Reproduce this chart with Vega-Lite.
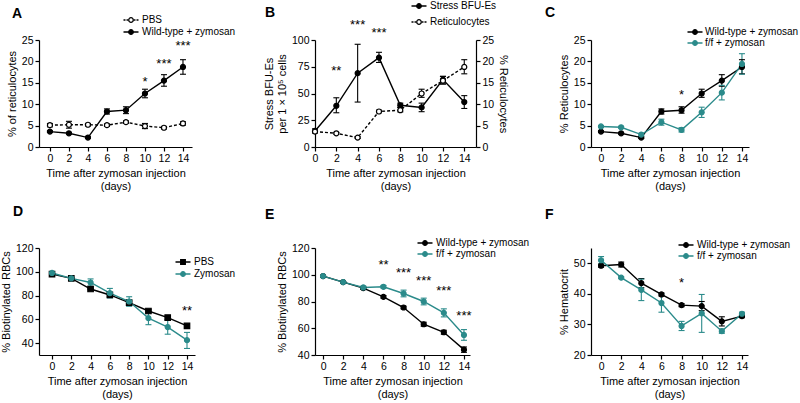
{
"$schema": "https://vega.github.io/schema/vega-lite/v6.json",
"padding": 0,
"config": {
 "font": "Liberation Sans",
 "view": {"stroke": null},
 "axis": {"grid": false, "domainColor": "#000", "tickColor": "#000", "labelColor": "#000", "titleColor": "#000", "labelFont": "Liberation Sans", "titleFont": "Liberation Sans", "labelFontSize": 10.5, "titleFontSize": 11, "titleFontWeight": "normal", "tickSize": 4, "domainWidth": 1.2, "tickWidth": 1.2, "labelPadding": 2, "titlePadding": 4, "titleLineHeight": 13, "labelFlush": false, "labelOverlap": false},
 "legend": {"labelFont": "Liberation Sans", "labelFontSize": 10, "labelColor": "#000", "padding": 0, "labelOffset": 5, "symbolSize": 100, "symbolStrokeWidth": 1.3, "orient": "none"},
 "title": {"font": "Liberation Sans", "fontSize": 14, "fontWeight": "bold", "color": "#000", "anchor": "start", "frame": "group"}
},
"columns": 3,
"spacing": {"row": 101, "column": 115},
"bounds": "flush",
"align": "all",
"resolve": {"scale": {"color": "independent", "stroke": "independent", "fill": "independent", "shape": "independent"}},
"concat": [
{
 "width": 153, "height": 107,
 "title": {"text": "A", "dx": -27, "dy": 11},
 "data": {"values": [
  {"day":0,"s":"PBS","v":5.1,"lo":4.7,"hi":5.5},
  {"day":2,"s":"PBS","v":5.2,"lo":4.4,"hi":6.0},
  {"day":4,"s":"PBS","v":5.2,"lo":4.9,"hi":5.5},
  {"day":6,"s":"PBS","v":5.1,"lo":4.8,"hi":5.4},
  {"day":8,"s":"PBS","v":5.8,"lo":5.5,"hi":6.1},
  {"day":10,"s":"PBS","v":4.9,"lo":4.3,"hi":5.5},
  {"day":12,"s":"PBS","v":4.5,"lo":4.2,"hi":4.8},
  {"day":14,"s":"PBS","v":5.5,"lo":5.1,"hi":5.9},
  {"day":0,"s":"Wild-type + zymosan","v":3.6,"lo":3.4,"hi":3.8},
  {"day":2,"s":"Wild-type + zymosan","v":3.2,"lo":3.0,"hi":3.4},
  {"day":4,"s":"Wild-type + zymosan","v":2.2,"lo":2.0,"hi":2.5},
  {"day":6,"s":"Wild-type + zymosan","v":8.3,"lo":7.7,"hi":8.9},
  {"day":8,"s":"Wild-type + zymosan","v":8.6,"lo":7.8,"hi":9.4},
  {"day":10,"s":"Wild-type + zymosan","v":12.5,"lo":11.5,"hi":13.5},
  {"day":12,"s":"Wild-type + zymosan","v":15.5,"lo":14.2,"hi":16.9},
  {"day":14,"s":"Wild-type + zymosan","v":18.7,"lo":17.0,"hi":20.4}
 ]},
 "encoding": {"x": {"field": "day", "type": "quantitative", "scale": {"domain": [-1.15, 14.95], "nice": false, "zero": false}, "axis": {"values": [0,2,4,6,8,10,12,14], "labelOverlap": false, "title": ["Time after zymosan injection", "(days)"]}}},
 "layer": [
  {"mark": {"type": "rule", "strokeWidth": 1.1, "color": "#000"},
   "encoding": {"y": {"field": "lo", "type": "quantitative", "scale": {"domain": [0, 25], "nice": false}, "axis": {"values": [0,5,10,15,20,25], "labelOverlap": false, "title": "% of reticulocytes"}}, "y2": {"field": "hi"}}},
  {"mark": {"type": "tick", "orient": "horizontal", "size": 6, "thickness": 1.1, "opacity": 1, "color": "#000"},
   "encoding": {"y": {"field": "lo", "type": "quantitative", "scale": {"domain": [0, 25], "nice": false}, "axis": {"values": [0,5,10,15,20,25], "labelOverlap": false, "title": "% of reticulocytes"}}}},
  {"mark": {"type": "tick", "orient": "horizontal", "size": 6, "thickness": 1.1, "opacity": 1, "color": "#000"},
   "encoding": {"y": {"field": "hi", "type": "quantitative", "scale": {"domain": [0, 25], "nice": false}, "axis": {"values": [0,5,10,15,20,25], "labelOverlap": false, "title": "% of reticulocytes"}}}},
  {"transform": [{"filter": "datum.s === 'PBS'"}],
   "mark": {"type": "line", "strokeWidth": 1.4, "color": "#000", "strokeDash": [3, 2]},
   "encoding": {"y": {"field": "v", "type": "quantitative", "scale": {"domain": [0, 25], "nice": false}, "axis": {"values": [0,5,10,15,20,25], "labelOverlap": false, "title": "% of reticulocytes"}}}},
  {"transform": [{"filter": "datum.s !== 'PBS'"}],
   "mark": {"type": "line", "strokeWidth": 1.4, "color": "#000"},
   "encoding": {"y": {"field": "v", "type": "quantitative", "scale": {"domain": [0, 25], "nice": false}, "axis": {"values": [0,5,10,15,20,25], "labelOverlap": false, "title": "% of reticulocytes"}}}},
  {"mark": {"type": "point", "size": 25, "opacity": 1, "strokeWidth": 1.2},
   "encoding": {
    "y": {"field": "v", "type": "quantitative", "scale": {"domain": [0, 25], "nice": false}, "axis": {"values": [0,5,10,15,20,25], "labelOverlap": false, "title": "% of reticulocytes"}},
    "fill": {"field": "s", "type": "nominal", "scale": {"domain": ["PBS", "Wild-type + zymosan"], "range": ["#fff", "#000"]}},
    "stroke": {"field": "s", "type": "nominal", "scale": {"domain": ["PBS", "Wild-type + zymosan"], "range": ["#000", "#000"]},
     "legend": {"title": null, "legendX": 86, "legendY": -26, "rowPadding": 1, "symbolSize": 100,
      "encoding": {"symbols": {
       "fill": {"value": {"expr": "datum.value === 'PBS' ? '#fff' : '#000'"}},
       "shape": {"value": {"expr": "datum.value === 'PBS' ? 'M-1.5,0H-1.1M-0.9,0H-0.6M0.6,0H0.9M1.1,0H1.5M0.46,0A0.46,0.46,0,1,1,-0.46,0A0.46,0.46,0,1,1,0.46,0Z' : 'M-1.5,0H1.5M0.46,0A0.46,0.46,0,1,1,-0.46,0A0.46,0.46,0,1,1,0.46,0Z'"}}}}}}}},
  {"data": {"values": [{"day":10,"v":15.3,"t":"*"},{"day":12,"v":19.5,"t":"***"},{"day":14,"v":23.5,"t":"***"}]},
   "mark": {"type": "text", "fontSize": 13, "baseline": "middle", "color": "#000"},
   "encoding": {
    "y": {"field": "v", "type": "quantitative", "scale": {"domain": [0, 25], "nice": false}, "axis": {"values": [0,5,10,15,20,25], "labelOverlap": false, "title": "% of reticulocytes"}},
    "text": {"field": "t"}}}
 ]
},
{
 "width": 161, "height": 107,
 "title": {"text": "B", "dx": -50, "dy": 24},
 "data": {"values": [
  {"day":0,"s":"Stress BFU-Es","v":15,"lo":13,"hi":17},
  {"day":2,"s":"Stress BFU-Es","v":38.5,"lo":32,"hi":46},
  {"day":4,"s":"Stress BFU-Es","v":69,"lo":42,"hi":96},
  {"day":6,"s":"Stress BFU-Es","v":83.5,"lo":79,"hi":88.5},
  {"day":8,"s":"Stress BFU-Es","v":39,"lo":37,"hi":41},
  {"day":10,"s":"Stress BFU-Es","v":37,"lo":33,"hi":41},
  {"day":12,"s":"Stress BFU-Es","v":63,"lo":59,"hi":66},
  {"day":14,"s":"Stress BFU-Es","v":42,"lo":36,"hi":48},
  {"day":0,"s":"Reticulocytes","v":3.6,"lo":3.4,"hi":3.8},
  {"day":2,"s":"Reticulocytes","v":3.2,"lo":3.0,"hi":3.4},
  {"day":4,"s":"Reticulocytes","v":2.2,"lo":2.0,"hi":2.4},
  {"day":6,"s":"Reticulocytes","v":8.3,"lo":8.0,"hi":8.6},
  {"day":8,"s":"Reticulocytes","v":8.6,"lo":8.2,"hi":9.2},
  {"day":10,"s":"Reticulocytes","v":12.5,"lo":11.6,"hi":13.5},
  {"day":12,"s":"Reticulocytes","v":15.5,"lo":14.7,"hi":16.5},
  {"day":14,"s":"Reticulocytes","v":18.7,"lo":17.1,"hi":20.4}
 ]},
 "encoding": {"x": {"field": "day", "type": "quantitative", "scale": {"domain": [0, 15.1], "nice": false, "zero": false}, "axis": {"values": [0,2,4,6,8,10,12,14], "labelOverlap": false, "title": ["Time after zymosan injection", "(days)"]}}},
 "resolve": {"scale": {"y": "independent"}},
 "layer": [
  {"transform": [{"filter": "datum.s === 'Stress BFU-Es'"}],
   "layer": [
    {"mark": {"type": "rule", "strokeWidth": 1.1, "color": "#000"},
     "encoding": {"y": {"field": "lo", "type": "quantitative", "scale": {"domain": [0, 100], "nice": false}, "axis": {"values": [0,25,50,75,100], "labelOverlap": false, "orient": "left", "title": ["Stress BFU-Es", "per 1 × 10⁵ cells"]}}, "y2": {"field": "hi"}}},
    {"mark": {"type": "tick", "orient": "horizontal", "size": 6, "thickness": 1.1, "opacity": 1, "color": "#000"},
     "encoding": {"y": {"field": "lo", "type": "quantitative", "scale": {"domain": [0, 100], "nice": false}, "axis": {"values": [0,25,50,75,100], "labelOverlap": false, "orient": "left", "title": ["Stress BFU-Es", "per 1 × 10⁵ cells"]}}}},
    {"mark": {"type": "tick", "orient": "horizontal", "size": 6, "thickness": 1.1, "opacity": 1, "color": "#000"},
     "encoding": {"y": {"field": "hi", "type": "quantitative", "scale": {"domain": [0, 100], "nice": false}, "axis": {"values": [0,25,50,75,100], "labelOverlap": false, "orient": "left", "title": ["Stress BFU-Es", "per 1 × 10⁵ cells"]}}}},
    {"mark": {"type": "line", "strokeWidth": 1.4, "color": "#000"},
     "encoding": {"y": {"field": "v", "type": "quantitative", "scale": {"domain": [0, 100], "nice": false}, "axis": {"values": [0,25,50,75,100], "labelOverlap": false, "orient": "left", "title": ["Stress BFU-Es", "per 1 × 10⁵ cells"]}}}},
    {"mark": {"type": "point", "size": 25, "opacity": 1, "strokeWidth": 1.2},
     "encoding": {
      "y": {"field": "v", "type": "quantitative", "scale": {"domain": [0, 100], "nice": false}, "axis": {"values": [0,25,50,75,100], "labelOverlap": false, "orient": "left", "title": ["Stress BFU-Es", "per 1 × 10⁵ cells"]}},
      "fill": {"field": "s", "type": "nominal", "scale": {"domain": ["Stress BFU-Es", "Reticulocytes"], "range": ["#000", "#fff"]}},
      "stroke": {"field": "s", "type": "nominal", "scale": {"domain": ["Stress BFU-Es", "Reticulocytes"], "range": ["#000", "#000"]},
       "legend": {"title": null, "legendX": 98, "legendY": -40, "rowPadding": 5, "symbolSize": 100,
        "encoding": {"symbols": {
         "fill": {"value": {"expr": "datum.value === 'Reticulocytes' ? '#fff' : '#000'"}},
         "shape": {"value": {"expr": "datum.value === 'Reticulocytes' ? 'M-1.5,0H-1.1M-0.9,0H-0.6M0.6,0H0.9M1.1,0H1.5M0.46,0A0.46,0.46,0,1,1,-0.46,0A0.46,0.46,0,1,1,0.46,0Z' : 'M-1.5,0H1.5M0.46,0A0.46,0.46,0,1,1,-0.46,0A0.46,0.46,0,1,1,0.46,0Z'"}}}}}}}},
    {"data": {"values": [{"day":2,"v":71,"t":"**"},{"day":4,"v":114,"t":"***"},{"day":6,"v":107,"t":"***"}]},
     "mark": {"type": "text", "fontSize": 13, "baseline": "middle", "color": "#000"},
     "encoding": {
      "y": {"field": "v", "type": "quantitative", "scale": {"domain": [0, 100], "nice": false}, "axis": {"values": [0,25,50,75,100], "labelOverlap": false, "orient": "left", "title": ["Stress BFU-Es", "per 1 × 10⁵ cells"]}},
      "text": {"field": "t"}}}
   ]},
  {"transform": [{"filter": "datum.s === 'Reticulocytes'"}],
   "layer": [
    {"mark": {"type": "rule", "strokeWidth": 1.1, "color": "#000"},
     "encoding": {"y": {"field": "lo", "type": "quantitative", "scale": {"domain": [0, 25], "nice": false}, "axis": {"values": [0,5,10,15,20,25], "labelOverlap": false, "orient": "right", "title": "% Reticulocytes"}}, "y2": {"field": "hi"}}},
    {"mark": {"type": "tick", "orient": "horizontal", "size": 6, "thickness": 1.1, "opacity": 1, "color": "#000"},
     "encoding": {"y": {"field": "lo", "type": "quantitative", "scale": {"domain": [0, 25], "nice": false}, "axis": {"values": [0,5,10,15,20,25], "labelOverlap": false, "orient": "right", "title": "% Reticulocytes"}}}},
    {"mark": {"type": "tick", "orient": "horizontal", "size": 6, "thickness": 1.1, "opacity": 1, "color": "#000"},
     "encoding": {"y": {"field": "hi", "type": "quantitative", "scale": {"domain": [0, 25], "nice": false}, "axis": {"values": [0,5,10,15,20,25], "labelOverlap": false, "orient": "right", "title": "% Reticulocytes"}}}},
    {"mark": {"type": "line", "strokeWidth": 1.4, "color": "#000", "strokeDash": [3, 2]},
     "encoding": {"y": {"field": "v", "type": "quantitative", "scale": {"domain": [0, 25], "nice": false}, "axis": {"values": [0,5,10,15,20,25], "labelOverlap": false, "orient": "right", "title": "% Reticulocytes"}}}},
    {"mark": {"type": "point", "size": 25, "opacity": 1, "strokeWidth": 1.2},
     "encoding": {
      "y": {"field": "v", "type": "quantitative", "scale": {"domain": [0, 25], "nice": false}, "axis": {"values": [0,5,10,15,20,25], "labelOverlap": false, "orient": "right", "title": "% Reticulocytes"}},
      "fill": {"field": "s", "type": "nominal", "scale": {"domain": ["Stress BFU-Es", "Reticulocytes"], "range": ["#000", "#fff"]}},
      "stroke": {"field": "s", "type": "nominal", "scale": {"domain": ["Stress BFU-Es", "Reticulocytes"], "range": ["#000", "#000"]}}}}
   ]}
 ]
},
{
 "width": 158, "height": 107,
 "title": {"text": "C", "dx": -46, "dy": -2},
 "data": {"values": [
  {"day":0,"s":"Wild-type + zymosan","v":3.6,"lo":3.4,"hi":3.8},
  {"day":2,"s":"Wild-type + zymosan","v":3.2,"lo":3.0,"hi":3.4},
  {"day":4,"s":"Wild-type + zymosan","v":2.2,"lo":2.0,"hi":2.4},
  {"day":6,"s":"Wild-type + zymosan","v":8.3,"lo":7.7,"hi":8.9},
  {"day":8,"s":"Wild-type + zymosan","v":8.6,"lo":7.9,"hi":9.4},
  {"day":10,"s":"Wild-type + zymosan","v":12.5,"lo":11.6,"hi":13.5},
  {"day":12,"s":"Wild-type + zymosan","v":15.5,"lo":14.2,"hi":16.9},
  {"day":14,"s":"Wild-type + zymosan","v":18.7,"lo":17.1,"hi":20.4},
  {"day":0,"s":"f/f + zymosan","v":4.8,"lo":4.6,"hi":5.0},
  {"day":2,"s":"f/f + zymosan","v":4.6,"lo":4.4,"hi":4.8},
  {"day":4,"s":"f/f + zymosan","v":2.9,"lo":2.6,"hi":3.2},
  {"day":6,"s":"f/f + zymosan","v":5.8,"lo":5.1,"hi":6.5},
  {"day":8,"s":"f/f + zymosan","v":4.0,"lo":3.5,"hi":4.5},
  {"day":10,"s":"f/f + zymosan","v":8.1,"lo":6.9,"hi":9.3},
  {"day":12,"s":"f/f + zymosan","v":12.7,"lo":11.0,"hi":14.4},
  {"day":14,"s":"f/f + zymosan","v":19.4,"lo":17.0,"hi":21.8}
 ]},
 "encoding": {"x": {"field": "day", "type": "quantitative", "scale": {"domain": [-0.99, 14.7], "nice": false, "zero": false}, "axis": {"values": [0,2,4,6,8,10,12,14], "labelOverlap": false, "title": ["Time after zymosan injection", "(days)"]}}},
 "layer": [
  {"mark": {"type": "rule", "strokeWidth": 1.1},
   "encoding": {"y": {"field": "lo", "type": "quantitative", "scale": {"domain": [0, 25], "nice": false}, "axis": {"values": [0,5,10,15,20,25], "labelOverlap": false, "title": "% Reticulocytes"}}, "y2": {"field": "hi"},
    "color": {"field": "s", "type": "nominal", "scale": {"domain": ["Wild-type + zymosan", "f/f + zymosan"], "range": ["#000", "#2b8b8b"]}}}},
  {"mark": {"type": "tick", "orient": "horizontal", "size": 6, "thickness": 1.1, "opacity": 1},
   "encoding": {"y": {"field": "lo", "type": "quantitative", "scale": {"domain": [0, 25], "nice": false}, "axis": {"values": [0,5,10,15,20,25], "labelOverlap": false, "title": "% Reticulocytes"}},
    "color": {"field": "s", "type": "nominal", "scale": {"domain": ["Wild-type + zymosan", "f/f + zymosan"], "range": ["#000", "#2b8b8b"]}}}},
  {"mark": {"type": "tick", "orient": "horizontal", "size": 6, "thickness": 1.1, "opacity": 1},
   "encoding": {"y": {"field": "hi", "type": "quantitative", "scale": {"domain": [0, 25], "nice": false}, "axis": {"values": [0,5,10,15,20,25], "labelOverlap": false, "title": "% Reticulocytes"}},
    "color": {"field": "s", "type": "nominal", "scale": {"domain": ["Wild-type + zymosan", "f/f + zymosan"], "range": ["#000", "#2b8b8b"]}}}},
  {"mark": {"type": "line", "strokeWidth": 1.4},
   "encoding": {"y": {"field": "v", "type": "quantitative", "scale": {"domain": [0, 25], "nice": false}, "axis": {"values": [0,5,10,15,20,25], "labelOverlap": false, "title": "% Reticulocytes"}},
    "color": {"field": "s", "type": "nominal", "scale": {"domain": ["Wild-type + zymosan", "f/f + zymosan"], "range": ["#000", "#2b8b8b"]}}}},
  {"mark": {"type": "point", "size": 25, "opacity": 1, "strokeWidth": 1.2},
   "encoding": {
    "y": {"field": "v", "type": "quantitative", "scale": {"domain": [0, 25], "nice": false}, "axis": {"values": [0,5,10,15,20,25], "labelOverlap": false, "title": "% Reticulocytes"}},
    "fill": {"field": "s", "type": "nominal", "scale": {"domain": ["Wild-type + zymosan", "f/f + zymosan"], "range": ["#000", "#2b8b8b"]}},
    "stroke": {"field": "s", "type": "nominal", "scale": {"domain": ["Wild-type + zymosan", "f/f + zymosan"], "range": ["#000", "#2b8b8b"]},
     "legend": {"title": null, "legendX": 98, "legendY": -14, "rowPadding": 0, "symbolSize": 100, "labelOffset": 4,
      "encoding": {"symbols": {
       "fill": {"value": {"expr": "datum.value === 'f/f + zymosan' ? '#2b8b8b' : '#000'"}},
       "shape": {"value": "M-1.5,0H1.5M0.46,0A0.46,0.46,0,1,1,-0.46,0A0.46,0.46,0,1,1,0.46,0Z"}}}}}}},
  {"data": {"values": [{"day":8,"v":12.2,"t":"*"}]},
   "mark": {"type": "text", "fontSize": 13, "baseline": "middle", "color": "#000"},
   "encoding": {
    "y": {"field": "v", "type": "quantitative", "scale": {"domain": [0, 25], "nice": false}, "axis": {"values": [0,5,10,15,20,25], "labelOverlap": false, "title": "% Reticulocytes"}},
    "text": {"field": "t"}}}
 ]
},
{
 "width": 156, "height": 107,
 "title": {"text": "D", "dx": -26, "dy": -20},
 "data": {"values": [
  {"day":0,"s":"PBS","v":98,"lo":97,"hi":99},
  {"day":2,"s":"PBS","v":94.5,"lo":94,"hi":95},
  {"day":4,"s":"PBS","v":85.5,"lo":85,"hi":86},
  {"day":6,"s":"PBS","v":80.5,"lo":79.5,"hi":81.5},
  {"day":8,"s":"PBS","v":74,"lo":72.5,"hi":75.5},
  {"day":10,"s":"PBS","v":67,"lo":66,"hi":68},
  {"day":12,"s":"PBS","v":61.5,"lo":60,"hi":63},
  {"day":14,"s":"PBS","v":54.5,"lo":53.5,"hi":55.5},
  {"day":0,"s":"Zymosan","v":99,"lo":98,"hi":100},
  {"day":2,"s":"Zymosan","v":94.5,"lo":94,"hi":95},
  {"day":4,"s":"Zymosan","v":91,"lo":88,"hi":94},
  {"day":6,"s":"Zymosan","v":82,"lo":78,"hi":86},
  {"day":8,"s":"Zymosan","v":75,"lo":71,"hi":79},
  {"day":10,"s":"Zymosan","v":61,"lo":55.5,"hi":66.5},
  {"day":12,"s":"Zymosan","v":53.5,"lo":47.5,"hi":59.5},
  {"day":14,"s":"Zymosan","v":42.5,"lo":35.5,"hi":49}
 ]},
 "encoding": {"x": {"field": "day", "type": "quantitative", "scale": {"domain": [-1.35, 14.83], "nice": false, "zero": false}, "axis": {"values": [0,2,4,6,8,10,12,14], "labelOverlap": false, "title": ["Time after zymosan injection", "(days)"]}}},
 "layer": [
  {"mark": {"type": "rule", "strokeWidth": 1.1},
   "encoding": {"y": {"field": "lo", "type": "quantitative", "scale": {"domain": [30, 120], "nice": false, "zero": false}, "axis": {"values": [40,60,80,100,120], "labelOverlap": false, "title": "% Biotinylated RBCs"}}, "y2": {"field": "hi"},
    "color": {"field": "s", "type": "nominal", "scale": {"domain": ["PBS", "Zymosan"], "range": ["#000", "#2b8b8b"]}}}},
  {"mark": {"type": "tick", "orient": "horizontal", "size": 6, "thickness": 1.1, "opacity": 1},
   "encoding": {"y": {"field": "lo", "type": "quantitative", "scale": {"domain": [30, 120], "nice": false, "zero": false}, "axis": {"values": [40,60,80,100,120], "labelOverlap": false, "title": "% Biotinylated RBCs"}},
    "color": {"field": "s", "type": "nominal", "scale": {"domain": ["PBS", "Zymosan"], "range": ["#000", "#2b8b8b"]}}}},
  {"mark": {"type": "tick", "orient": "horizontal", "size": 6, "thickness": 1.1, "opacity": 1},
   "encoding": {"y": {"field": "hi", "type": "quantitative", "scale": {"domain": [30, 120], "nice": false, "zero": false}, "axis": {"values": [40,60,80,100,120], "labelOverlap": false, "title": "% Biotinylated RBCs"}},
    "color": {"field": "s", "type": "nominal", "scale": {"domain": ["PBS", "Zymosan"], "range": ["#000", "#2b8b8b"]}}}},
  {"mark": {"type": "line", "strokeWidth": 1.4},
   "encoding": {"y": {"field": "v", "type": "quantitative", "scale": {"domain": [30, 120], "nice": false, "zero": false}, "axis": {"values": [40,60,80,100,120], "labelOverlap": false, "title": "% Biotinylated RBCs"}},
    "color": {"field": "s", "type": "nominal", "scale": {"domain": ["PBS", "Zymosan"], "range": ["#000", "#2b8b8b"]}}}},
  {"transform": [{"filter": "datum.s === 'PBS'"}],
   "mark": {"type": "point", "shape": "square", "size": 30, "opacity": 1, "strokeWidth": 1.2},
   "encoding": {
    "y": {"field": "v", "type": "quantitative", "scale": {"domain": [30, 120], "nice": false, "zero": false}, "axis": {"values": [40,60,80,100,120], "labelOverlap": false, "title": "% Biotinylated RBCs"}},
    "fill": {"field": "s", "type": "nominal", "scale": {"domain": ["PBS", "Zymosan"], "range": ["#000", "#2b8b8b"]}},
    "stroke": {"field": "s", "type": "nominal", "scale": {"domain": ["PBS", "Zymosan"], "range": ["#000", "#2b8b8b"]},
     "legend": {"title": null, "legendX": 138, "legendY": 8, "rowPadding": 1, "symbolSize": 100,
      "encoding": {"symbols": {
       "fill": {"value": {"expr": "datum.value === 'Zymosan' ? '#2b8b8b' : '#000'"}},
       "shape": {"value": {"expr": "datum.value === 'PBS' ? 'M-1.5,0H1.5M-0.46,-0.46H0.46V0.46H-0.46Z' : 'M-1.5,0H1.5M0.46,0A0.46,0.46,0,1,1,-0.46,0A0.46,0.46,0,1,1,0.46,0Z'"}}}}}}}},
  {"transform": [{"filter": "datum.s === 'Zymosan'"}],
   "mark": {"type": "point", "shape": "circle", "size": 25, "opacity": 1, "strokeWidth": 1.2},
   "encoding": {
    "y": {"field": "v", "type": "quantitative", "scale": {"domain": [30, 120], "nice": false, "zero": false}, "axis": {"values": [40,60,80,100,120], "labelOverlap": false, "title": "% Biotinylated RBCs"}},
    "fill": {"field": "s", "type": "nominal", "scale": {"domain": ["PBS", "Zymosan"], "range": ["#000", "#2b8b8b"]}},
    "stroke": {"field": "s", "type": "nominal", "scale": {"domain": ["PBS", "Zymosan"], "range": ["#000", "#2b8b8b"]}}}},
  {"data": {"values": [{"day":14,"v":67,"t":"**"}]},
   "mark": {"type": "text", "fontSize": 13, "baseline": "middle", "color": "#000"},
   "encoding": {
    "y": {"field": "v", "type": "quantitative", "scale": {"domain": [30, 120], "nice": false, "zero": false}, "axis": {"values": [40,60,80,100,120], "labelOverlap": false, "title": "% Biotinylated RBCs"}},
    "text": {"field": "t"}}}
 ]
},
{
 "width": 155, "height": 107,
 "title": {"text": "E", "dx": -50, "dy": -11},
 "data": {"values": [
  {"day":0,"s":"Wild-type + zymosan","v":99,"lo":98.5,"hi":99.5},
  {"day":2,"s":"Wild-type + zymosan","v":94.5,"lo":94,"hi":95},
  {"day":4,"s":"Wild-type + zymosan","v":90,"lo":89,"hi":91},
  {"day":6,"s":"Wild-type + zymosan","v":83.5,"lo":82.5,"hi":84.5},
  {"day":8,"s":"Wild-type + zymosan","v":75.5,"lo":74.5,"hi":76.5},
  {"day":10,"s":"Wild-type + zymosan","v":63,"lo":61.5,"hi":64.5},
  {"day":12,"s":"Wild-type + zymosan","v":57,"lo":55.5,"hi":58.5},
  {"day":14,"s":"Wild-type + zymosan","v":44,"lo":42,"hi":46},
  {"day":0,"s":"f/f + zymosan","v":99,"lo":98.5,"hi":99.5},
  {"day":2,"s":"f/f + zymosan","v":94.5,"lo":94,"hi":95},
  {"day":4,"s":"f/f + zymosan","v":90.5,"lo":89.5,"hi":91.5},
  {"day":6,"s":"f/f + zymosan","v":91,"lo":90,"hi":92},
  {"day":8,"s":"f/f + zymosan","v":86,"lo":83.5,"hi":88.5},
  {"day":10,"s":"f/f + zymosan","v":80,"lo":77.5,"hi":82.5},
  {"day":12,"s":"f/f + zymosan","v":71.5,"lo":68.5,"hi":74.5},
  {"day":14,"s":"f/f + zymosan","v":55,"lo":51,"hi":59}
 ]},
 "encoding": {"x": {"field": "day", "type": "quantitative", "scale": {"domain": [-0.8, 14.6], "nice": false, "zero": false}, "axis": {"values": [0,2,4,6,8,10,12,14], "labelOverlap": false, "title": ["Time after zymosan injection", "(days)"]}}},
 "layer": [
  {"mark": {"type": "rule", "strokeWidth": 1.1},
   "encoding": {"y": {"field": "lo", "type": "quantitative", "scale": {"domain": [40, 120], "nice": false, "zero": false}, "axis": {"values": [40,60,80,100,120], "labelOverlap": false, "title": "% Biotinylated RBCs"}}, "y2": {"field": "hi"},
    "color": {"field": "s", "type": "nominal", "scale": {"domain": ["Wild-type + zymosan", "f/f + zymosan"], "range": ["#000", "#2b8b8b"]}}}},
  {"mark": {"type": "tick", "orient": "horizontal", "size": 6, "thickness": 1.1, "opacity": 1},
   "encoding": {"y": {"field": "lo", "type": "quantitative", "scale": {"domain": [40, 120], "nice": false, "zero": false}, "axis": {"values": [40,60,80,100,120], "labelOverlap": false, "title": "% Biotinylated RBCs"}},
    "color": {"field": "s", "type": "nominal", "scale": {"domain": ["Wild-type + zymosan", "f/f + zymosan"], "range": ["#000", "#2b8b8b"]}}}},
  {"mark": {"type": "tick", "orient": "horizontal", "size": 6, "thickness": 1.1, "opacity": 1},
   "encoding": {"y": {"field": "hi", "type": "quantitative", "scale": {"domain": [40, 120], "nice": false, "zero": false}, "axis": {"values": [40,60,80,100,120], "labelOverlap": false, "title": "% Biotinylated RBCs"}},
    "color": {"field": "s", "type": "nominal", "scale": {"domain": ["Wild-type + zymosan", "f/f + zymosan"], "range": ["#000", "#2b8b8b"]}}}},
  {"mark": {"type": "line", "strokeWidth": 1.4},
   "encoding": {"y": {"field": "v", "type": "quantitative", "scale": {"domain": [40, 120], "nice": false, "zero": false}, "axis": {"values": [40,60,80,100,120], "labelOverlap": false, "title": "% Biotinylated RBCs"}},
    "color": {"field": "s", "type": "nominal", "scale": {"domain": ["Wild-type + zymosan", "f/f + zymosan"], "range": ["#000", "#2b8b8b"]}}}},
  {"mark": {"type": "point", "size": 25, "opacity": 1, "strokeWidth": 1.2},
   "encoding": {
    "y": {"field": "v", "type": "quantitative", "scale": {"domain": [40, 120], "nice": false, "zero": false}, "axis": {"values": [40,60,80,100,120], "labelOverlap": false, "title": "% Biotinylated RBCs"}},
    "fill": {"field": "s", "type": "nominal", "scale": {"domain": ["Wild-type + zymosan", "f/f + zymosan"], "range": ["#000", "#2b8b8b"]}},
    "stroke": {"field": "s", "type": "nominal", "scale": {"domain": ["Wild-type + zymosan", "f/f + zymosan"], "range": ["#000", "#2b8b8b"]},
     "legend": {"title": null, "legendX": 104, "legendY": -11, "rowPadding": 0, "symbolSize": 100,
      "encoding": {"symbols": {
       "fill": {"value": {"expr": "datum.value === 'f/f + zymosan' ? '#2b8b8b' : '#000'"}},
       "shape": {"value": "M-1.5,0H1.5M0.46,0A0.46,0.46,0,1,1,-0.46,0A0.46,0.46,0,1,1,0.46,0Z"}}}}}}},
  {"data": {"values": [{"day":6,"v":107,"t":"**"},{"day":8,"v":101.5,"t":"***"},{"day":10,"v":95.5,"t":"***"},{"day":12,"v":88,"t":"***"},{"day":14,"v":69,"t":"***"}]},
   "mark": {"type": "text", "fontSize": 13, "baseline": "middle", "color": "#000"},
   "encoding": {
    "y": {"field": "v", "type": "quantitative", "scale": {"domain": [40, 120], "nice": false, "zero": false}, "axis": {"values": [40,60,80,100,120], "labelOverlap": false, "title": "% Biotinylated RBCs"}},
    "text": {"field": "t"}}}
 ]
},
{
 "width": 157, "height": 107,
 "title": {"text": "F", "dx": -46, "dy": -13},
 "data": {"values": [
  {"day":0,"s":"Wild-type + zymosan","v":49.2,"lo":48.7,"hi":49.7},
  {"day":2,"s":"Wild-type + zymosan","v":49.6,"lo":48.8,"hi":50.4},
  {"day":4,"s":"Wild-type + zymosan","v":43.5,"lo":42,"hi":45},
  {"day":6,"s":"Wild-type + zymosan","v":39.8,"lo":39.3,"hi":40.3},
  {"day":8,"s":"Wild-type + zymosan","v":36.3,"lo":35.8,"hi":36.8},
  {"day":10,"s":"Wild-type + zymosan","v":36,"lo":34.5,"hi":37.5},
  {"day":12,"s":"Wild-type + zymosan","v":31,"lo":29.5,"hi":32.5},
  {"day":14,"s":"Wild-type + zymosan","v":32.7,"lo":32.2,"hi":33.2},
  {"day":0,"s":"f/f + zymosan","v":51,"lo":49.8,"hi":52.2},
  {"day":2,"s":"f/f + zymosan","v":45.3,"lo":45,"hi":45.6},
  {"day":4,"s":"f/f + zymosan","v":41.3,"lo":37.8,"hi":44.8},
  {"day":6,"s":"f/f + zymosan","v":37,"lo":34,"hi":40},
  {"day":8,"s":"f/f + zymosan","v":29.5,"lo":28,"hi":31},
  {"day":10,"s":"f/f + zymosan","v":33.6,"lo":27.4,"hi":39.8},
  {"day":12,"s":"f/f + zymosan","v":27.8,"lo":27.1,"hi":28.5},
  {"day":14,"s":"f/f + zymosan","v":33.5,"lo":33,"hi":34}
 ]},
 "encoding": {"x": {"field": "day", "type": "quantitative", "scale": {"domain": [-1.0, 14.6], "nice": false, "zero": false}, "axis": {"values": [0,2,4,6,8,10,12,14], "labelOverlap": false, "title": ["Time after zymosan injection", "(days)"]}}},
 "layer": [
  {"mark": {"type": "rule", "strokeWidth": 1.1},
   "encoding": {"y": {"field": "lo", "type": "quantitative", "scale": {"domain": [20, 55], "nice": false, "zero": false}, "axis": {"values": [20,30,40,50], "labelOverlap": false, "title": "% Hematocrit"}}, "y2": {"field": "hi"},
    "color": {"field": "s", "type": "nominal", "scale": {"domain": ["Wild-type + zymosan", "f/f + zymosan"], "range": ["#000", "#2b8b8b"]}}}},
  {"mark": {"type": "tick", "orient": "horizontal", "size": 6, "thickness": 1.1, "opacity": 1},
   "encoding": {"y": {"field": "lo", "type": "quantitative", "scale": {"domain": [20, 55], "nice": false, "zero": false}, "axis": {"values": [20,30,40,50], "labelOverlap": false, "title": "% Hematocrit"}},
    "color": {"field": "s", "type": "nominal", "scale": {"domain": ["Wild-type + zymosan", "f/f + zymosan"], "range": ["#000", "#2b8b8b"]}}}},
  {"mark": {"type": "tick", "orient": "horizontal", "size": 6, "thickness": 1.1, "opacity": 1},
   "encoding": {"y": {"field": "hi", "type": "quantitative", "scale": {"domain": [20, 55], "nice": false, "zero": false}, "axis": {"values": [20,30,40,50], "labelOverlap": false, "title": "% Hematocrit"}},
    "color": {"field": "s", "type": "nominal", "scale": {"domain": ["Wild-type + zymosan", "f/f + zymosan"], "range": ["#000", "#2b8b8b"]}}}},
  {"mark": {"type": "line", "strokeWidth": 1.4},
   "encoding": {"y": {"field": "v", "type": "quantitative", "scale": {"domain": [20, 55], "nice": false, "zero": false}, "axis": {"values": [20,30,40,50], "labelOverlap": false, "title": "% Hematocrit"}},
    "color": {"field": "s", "type": "nominal", "scale": {"domain": ["Wild-type + zymosan", "f/f + zymosan"], "range": ["#000", "#2b8b8b"]}}}},
  {"mark": {"type": "point", "size": 25, "opacity": 1, "strokeWidth": 1.2},
   "encoding": {
    "y": {"field": "v", "type": "quantitative", "scale": {"domain": [20, 55], "nice": false, "zero": false}, "axis": {"values": [20,30,40,50], "labelOverlap": false, "title": "% Hematocrit"}},
    "fill": {"field": "s", "type": "nominal", "scale": {"domain": ["Wild-type + zymosan", "f/f + zymosan"], "range": ["#000", "#2b8b8b"]}},
    "stroke": {"field": "s", "type": "nominal", "scale": {"domain": ["Wild-type + zymosan", "f/f + zymosan"], "range": ["#000", "#2b8b8b"]},
     "legend": {"title": null, "legendX": 89, "legendY": -9, "rowPadding": 0, "symbolSize": 100,
      "encoding": {"symbols": {
       "fill": {"value": {"expr": "datum.value === 'f/f + zymosan' ? '#2b8b8b' : '#000'"}},
       "shape": {"value": "M-1.5,0H1.5M0.46,0A0.46,0.46,0,1,1,-0.46,0A0.46,0.46,0,1,1,0.46,0Z"}}}}}}},
  {"data": {"values": [{"day":8,"v":43.5,"t":"*"}]},
   "mark": {"type": "text", "fontSize": 13, "baseline": "middle", "color": "#000"},
   "encoding": {
    "y": {"field": "v", "type": "quantitative", "scale": {"domain": [20, 55], "nice": false, "zero": false}, "axis": {"values": [20,30,40,50], "labelOverlap": false, "title": "% Hematocrit"}},
    "text": {"field": "t"}}}
 ]
}
]
}
